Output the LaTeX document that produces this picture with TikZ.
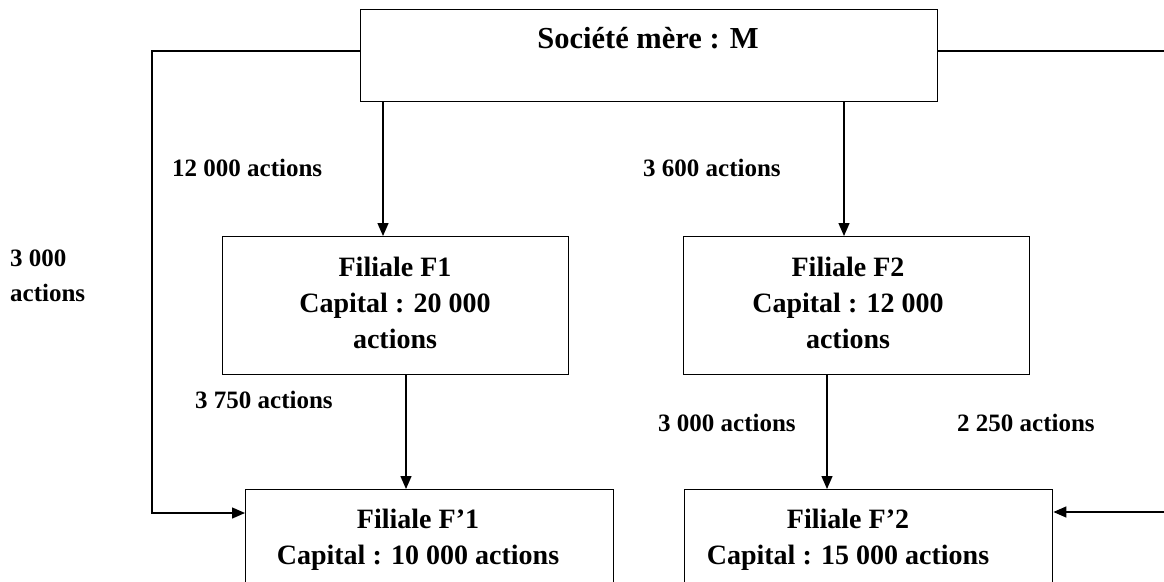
\documentclass[tikz,border=0pt]{standalone}
\usepackage{fontspec}
\setmainfont{Liberation Serif}
\usetikzlibrary{arrows.meta}
\begin{document}
\begin{tikzpicture}[x=1pt,y=-1pt,
  box/.style={draw, line width=1.4pt, rectangle, inner sep=0pt, anchor=north west},
  boxtext/.style={font=\bfseries\fontsize{28}{36}\selectfont, align=center, inner sep=0pt},
  lbl/.style={font=\bfseries\fontsize{25}{35}\selectfont, inner sep=0pt},
  conn/.style={line width=1.4pt},
  arr/.style={line width=1.4pt, -{Triangle[length=13pt,width=11pt]}}]
\useasboundingbox (0,0) rectangle (1164,581);
\clip (0,0) rectangle (1164,581);
% boxes
\node[box, minimum width=577pt, minimum height=92pt] (M) at (360,9) {};
\node[box, minimum width=346pt, minimum height=138pt] (F1) at (222,236) {};
\node[box, minimum width=346pt, minimum height=138pt] (F2) at (683,236) {};
\node[box, minimum width=368pt, minimum height=130pt] (Fp1) at (245,489) {};
\node[box, minimum width=368pt, minimum height=130pt] (Fp2) at (684,489) {};
% box texts
\node[boxtext, anchor=base, font=\bfseries\fontsize{30.5}{36}\selectfont] (tM) at (648,48) {Société mère : M};
\node[boxtext] (tF1) at (395,303) {Filiale F1\\Capital : 20 000\\actions};
\node[boxtext] (tF2) at (848,303) {Filiale F2\\Capital : 12 000\\actions};
\node[boxtext] (tFp1) at (418,540) {Filiale F’1\\Capital : 10 000 actions};
\node[boxtext] (tFp2) at (848,540) {Filiale F’2\\Capital : 15 000 actions};
% labels
\node[lbl, anchor=base west] (l1) at (172,176) {12 000 actions};
\node[lbl, anchor=base west] (l2) at (643,176) {3 600 actions};
\node[lbl, anchor=north west, align=left] (l3) at (10,250) {3 000\\actions};
\node[lbl, anchor=base west] (l4) at (195,408) {3 750 actions};
\node[lbl, anchor=base west] (l5) at (658,431) {3 000 actions};
\node[lbl, anchor=base west] (l6) at (957,431) {2 250 actions};
% helper coordinates
\coordinate (xa) at (383,0);
\coordinate (xb) at (844,0);
\coordinate (xc) at (406,0);
\coordinate (xd) at (827,0);
\coordinate (ytop) at (0,51);
\coordinate (lt) at (152,51);
\coordinate (yl) at (0,513);
\coordinate (rt) at (1164,51);
\coordinate (rb) at (1164,512);
% connectors
\draw[arr] (M.south -| xa) -- (F1.north -| xa);
\draw[arr] (M.south -| xb) -- (F2.north -| xb);
\draw[arr] (F1.south -| xc) -- (Fp1.north -| xc);
\draw[arr] (F2.south -| xd) -- (Fp2.north -| xd);
\draw[arr] (M.west |- ytop) -- (lt) |- (Fp1.west |- yl);
\draw[conn] (M.east |- ytop) -- (rt);
\draw[arr] (rb) -- (Fp2.east |- rb);
\end{tikzpicture}
\end{document}
